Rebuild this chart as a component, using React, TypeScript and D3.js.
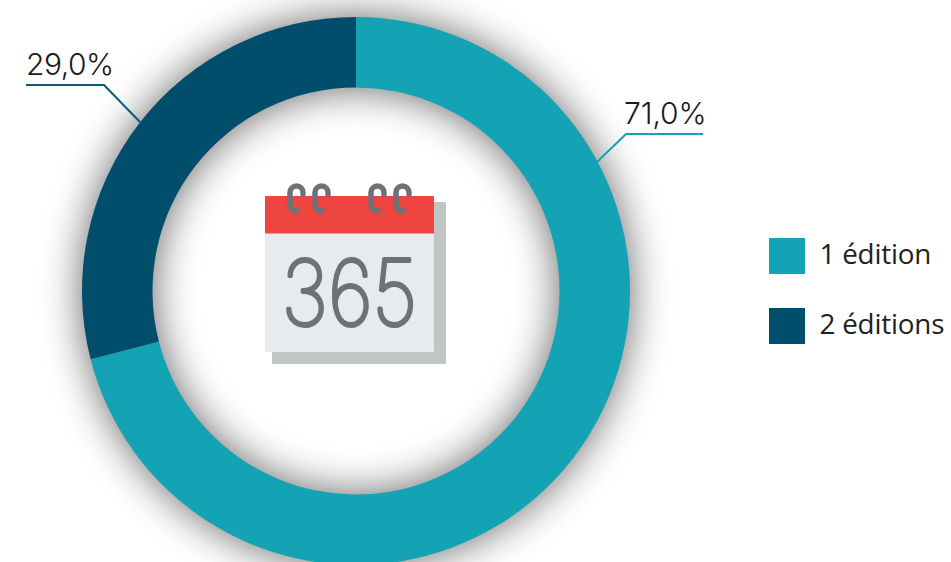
import React from "react";
import * as d3 from "d3";

const categories = ["1 édition", "2 éditions"];
const shares = [71.0, 29.0];
const labels = ["71,0%", "29,0%"];
const colours = ["#14a2b5", "#004e6c"];

const W = 951, H = 562;
const cx = 356, cy = 291, rOuter = 274, rInner = 203.5;

const pie = d3.pie<number>().sort(null).value((d) => d);
const arc = d3.arc<d3.PieArcDatum<number>>().innerRadius(rInner).outerRadius(rOuter);
const slices = pie(shares);

const callouts = [
  { pts: [[597, 162], [626, 134], [703, 134]], tx: 624, ty: 124, ls: -0.1 },
  { pts: [[140, 122], [104, 85], [26, 85]], tx: 26, ty: 75, ls: -0.5 },
];
const line = d3.line();

const ringXs = [290, 315, 371, 396];
const ringPath = (x: number) =>
  `M${x + 7},211 Q${x},211 ${x},204 L${x},192.5 A6.5,6.5 0 0 1 ${x + 13},192.5 L${x + 13},194`;

export default function App() {
  return (
    <svg width={W} height={H} viewBox={`0 0 ${W} ${H}`}
      style={{ position: "absolute", left: 0, top: 0, display: "block", background: "#fff" }}>
      <defs>
        <filter id="sh" x="-30%" y="-30%" width="160%" height="160%">
          <feGaussianBlur stdDeviation="21" />
        </filter>
      </defs>
      <g transform={`translate(${cx},${cy})`}>
        <g filter="url(#sh)" opacity={0.6}>
          {slices.map((s, i) => <path key={i} d={arc(s) ?? ""} fill="#000" />)}
        </g>
        {slices.map((s, i) => <path key={i} d={arc(s) ?? ""} fill={colours[i]} />)}
      </g>

      {callouts.map((c, i) => (
        <g key={i}>
          <path d={line(c.pts as [number, number][]) ?? ""} fill="none" stroke={i === 0 ? colours[0] : "#0b5a78"} strokeWidth={2} />
          <text x={c.tx} y={c.ty} fontFamily="Inter" fontWeight={300} fontSize={30} letterSpacing={c.ls} fill="#1a1a1a">{labels[i]}</text>
        </g>
      ))}

      <g>
        <rect x={272} y={202} width={174} height={162} fill="#c1c5c6" rx={1} />
        <rect x={265} y={196} width={169} height={156} fill="#e7ebef" rx={1} />
        <rect x={265} y={196} width={169} height={37.5} fill="#ee4540" />
        {ringXs.map((x) => (
          <path key={x} d={ringPath(x)} fill="none" stroke="#6e7274" strokeWidth={5.5} strokeLinecap="round" />
        ))}
        <text transform="translate(349.5,325) scale(0.88,1)" textAnchor="middle" fontFamily="Inter" fontWeight={100} fontSize={90}
          letterSpacing={0}
          fill="#6e7274" stroke="#6e7274" strokeWidth={4} strokeLinejoin="round" strokeLinecap="round">365</text>
      </g>

      {categories.map((c, i) => (
        <g key={c}>
          <rect x={769} y={238 + i * 70} width={36} height={36} fill={colours[i]} />
          <text x={819.5} y={264 + i * 70} fontFamily="Open Sans" fontSize={27.8} letterSpacing={-0.2} fill="#222">{c}</text>
        </g>
      ))}
    </svg>
  );
}
